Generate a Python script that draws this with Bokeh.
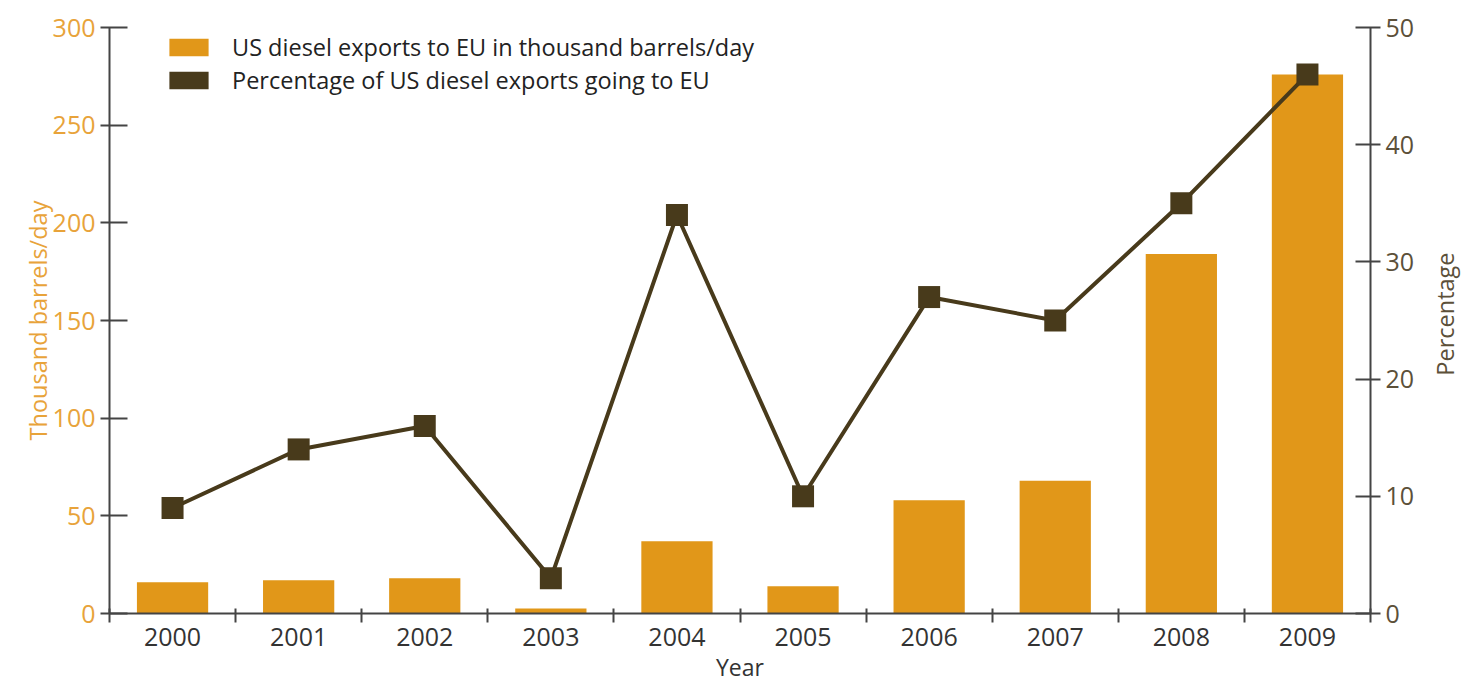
import math
from bokeh.plotting import figure
from bokeh.layouts import row
from bokeh.models import (Range1d, LinearAxis, FixedTicker, Legend, LegendItem,
                          ColumnDataSource, Label)
from bokeh.embed import file_html
from bokeh.resources import INLINE

years = ["2000", "2001", "2002", "2003", "2004", "2005", "2006", "2007", "2008", "2009"]
exports_kbd = [16, 17, 18, 2.5, 37, 14, 58, 68, 184, 276]
share_pct = [9, 14, 16, 3, 34, 10, 27, 25, 35, 46]
left_ticks = [0, 50, 100, 150, 200, 250, 300]
right_ticks = [0, 10, 20, 30, 40, 50]

ORANGE = "#E19719"
BROWN = "#483A1B"
AXIS = "#444444"
FONT = "Open Sans"

xs = list(range(len(years)))
src = ColumnDataSource(dict(x=xs, v=exports_kbd, p=share_pct))

MAIN_W = 1425
p = figure(width=MAIN_W, height=685, output_backend="svg", toolbar_location=None,
           x_range=Range1d(-0.5, len(years) - 0.5), y_range=Range1d(0, 300),
           min_border_left=109, min_border_right=55, min_border_top=27,
           min_border_bottom=71)
p.outline_line_color = None
p.xgrid.visible = False
p.ygrid.visible = False

p.extra_y_ranges = {"pct": Range1d(0, 50)}

bars = p.vbar(x="x", top="v", width=0.565, source=src, fill_color=ORANGE, line_color=None)
p.line(x="x", y="p", source=src, y_range_name="pct", line_color=BROWN, line_width=4)
p.scatter(x="x", y="p", source=src, y_range_name="pct", marker="square", size=22,
          fill_color=BROWN, line_color=None)
# legend-only swatch for the percentage series (zero-height, invisible in plot)
dummy = p.vbar(x=[0], top=[0], bottom=[0], width=0.01, fill_color=BROWN, line_color=None)

# x axis
xa = p.xaxis[0]
xa.ticker = FixedTicker(ticks=xs, minor_ticks=[i - 0.5 for i in range(len(years) + 1)])
xa.major_label_overrides = {i: y for i, y in enumerate(years)}
xa.major_tick_in = 0
xa.major_tick_out = 0
xa.minor_tick_in = 5
xa.minor_tick_out = 9
xa.minor_tick_line_color = AXIS
xa.minor_tick_line_width = 2
xa.axis_line_color = AXIS
xa.axis_line_width = 2
xa.major_label_text_font = FONT
xa.major_label_text_font_size = "25px"
xa.major_label_text_color = "#333333"
xa.major_label_standoff = 5
xa.axis_label = "Year"
xa.axis_label_text_font = FONT
xa.axis_label_text_font_size = "23px"
xa.axis_label_text_font_style = "normal"
xa.axis_label_text_color = "#333333"
xa.axis_label_standoff = 2

# left axis
ya = p.yaxis[0]
ya.ticker = FixedTicker(ticks=left_ticks)
ya.minor_tick_line_color = None
ya.major_tick_in = 18
ya.major_tick_out = 9
ya.major_tick_line_color = AXIS
ya.major_tick_line_width = 2
ya.axis_line_color = AXIS
ya.axis_line_width = 2
ya.major_label_text_font = FONT
ya.major_label_text_font_size = "25px"
ya.major_label_text_color = "#E8A33A"
ya.major_label_standoff = 5
ya.axis_label = "Thousand barrels/day"
ya.axis_label_text_font = FONT
ya.axis_label_text_font_size = "23.5px"
ya.axis_label_text_font_style = "normal"
ya.axis_label_text_color = "#E8A33A"
ya.axis_label_standoff = -4

# right axis
ra = LinearAxis(y_range_name="pct", ticker=FixedTicker(ticks=right_ticks))
ra.minor_tick_line_color = None
ra.major_tick_in = 15
ra.major_tick_out = 10
ra.major_tick_line_color = AXIS
ra.major_tick_line_width = 2
ra.axis_line_color = AXIS
ra.axis_line_width = 2
ra.major_label_text_font = FONT
ra.major_label_text_font_size = "25px"
ra.major_label_text_color = "#5C5039"
ra.major_label_standoff = 5
p.add_layout(ra, "right")

legend = Legend(items=[
    LegendItem(label="US diesel exports to EU in thousand barrels/day", renderers=[bars]),
    LegendItem(label="Percentage of US diesel exports going to EU", renderers=[dummy]),
], location=(55, 517))
legend.margin = 0
legend.padding = 0
legend.border_line_color = None
legend.background_fill_alpha = 0
legend.glyph_width = 49
legend.glyph_height = 22
legend.label_height = 28
legend.spacing = 1
legend.label_standoff = 19
legend.label_text_font = FONT
legend.label_text_font_size = "23.5px"
legend.label_text_color = "#222222"
p.add_layout(legend, "center")

# narrow strip holding the right-axis title, reading bottom-to-top
SIDE_W = 1478 - MAIN_W
side = figure(width=SIDE_W, height=685, output_backend="svg", toolbar_location=None,
              x_range=Range1d(0, 1), y_range=Range1d(0, 1),
              min_border_left=0, min_border_right=0, min_border_top=0, min_border_bottom=0)
side.axis.visible = False
side.grid.visible = False
side.outline_line_color = None
side.add_layout(Label(x=0.377, y=0.511, text="Percentage", angle=math.pi / 2,
                      text_align="center", text_baseline="middle", text_font=FONT,
                      text_font_size="23.5px", text_color="#5C5039"))

layout = row(p, side, spacing=0)
open("out.html", "w").write(file_html(layout, INLINE))
